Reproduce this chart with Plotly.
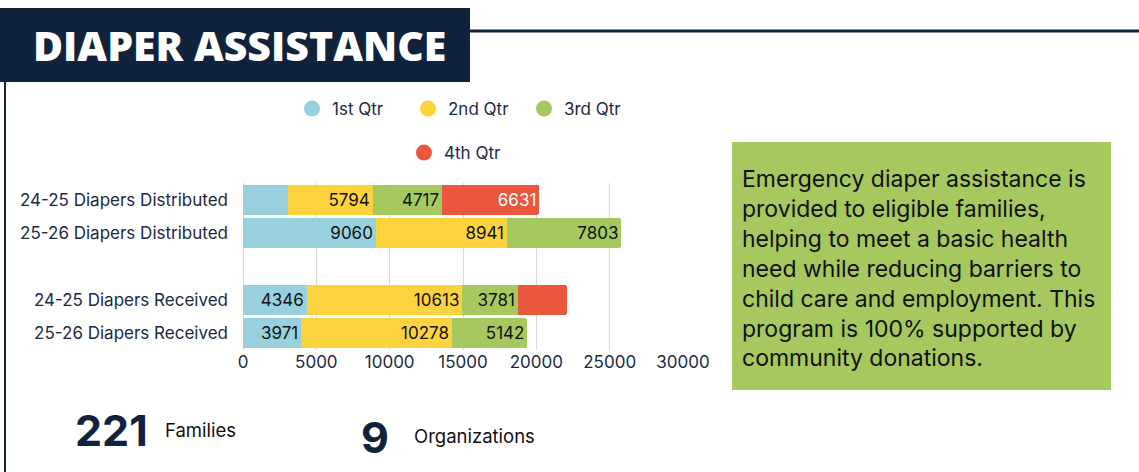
import plotly.graph_objects as go

W, H = 1139, 472

categories = ["24-25 Diapers Distributed", "25-26 Diapers Distributed", " ",
              "24-25 Diapers Received", "25-26 Diapers Received"]
series_names = ["1st Qtr", "2nd Qtr", "3rd Qtr", "4th Qtr"]
q1 = [3060, 9060, 0, 4346, 3971]
q2 = [5794, 8941, 0, 10613, 10278]
q3 = [4717, 7803, 0, 3781, 5142]
q4 = [6631, 0, 0, 3350, 0]
# labels shown in the reference (some small segments are unlabeled)
q1_lbl = ["", "9060", "", "4346", "3971"]
q2_lbl = ["5794", "8941", "", "10613", "10278"]
q3_lbl = ["4717", "7803", "", "3781", "5142"]
q4_lbl = ["6631", "", "", "", ""]
colors = ["#98d1dd", "#fcd33e", "#a5c85f", "#e8573e"]
label_colors = ["#111111", "#111111", "#111111", "#ffffff"]
x_ticks = [0, 5000, 10000, 15000, 20000, 25000, 30000]

NAVY = "#11223d"
TXT = "#1b2a44"

def px(x):
    return x / W

def py(y):
    return 1 - y / H

fig = go.Figure()
values = [q1, q2, q3, q4]
labels = [q1_lbl, q2_lbl, q3_lbl, q4_lbl]
for name, vals, lbl, col, lc in zip(series_names, values, labels, colors, label_colors):
    fig.add_trace(go.Bar(
        y=categories, x=vals, orientation="h", name=name,
        marker=dict(color=col, line=dict(width=0)),
        text=lbl, textposition="inside", insidetextanchor="end",
        textfont=dict(family="Inter", size=17, color=lc),
        constraintext="none",
        showlegend=False, hoverinfo="x+name",
    ))

# legend entries with circular markers
for i, (name, col) in enumerate(zip(series_names, colors)):
    fig.add_trace(go.Scatter(
        x=[None], y=[None], mode="markers", name=name,
        marker=dict(symbol="circle", size=18, color=col),
        legend="legend" if i < 3 else "legend2",
    ))

fig.update_layout(
    width=W, height=H,
    margin=dict(l=0, r=0, t=0, b=0, autoexpand=False),
    paper_bgcolor="white", plot_bgcolor="white",
    barmode="stack", bargap=0.1, barcornerradius=3,
    font=dict(family="Inter", color=TXT, size=17),
    xaxis=dict(
        domain=[px(243), px(683)], range=[0, 30000], automargin=False,
        tickvals=x_ticks, ticktext=[str(v) for v in x_ticks],
        showgrid=True, gridcolor="#d9d9d9", gridwidth=1,
        zeroline=True, zerolinecolor="#d9d9d9", zerolinewidth=1,
        showline=False, ticks="", tickfont=dict(size=17, color=TXT),
        anchor="y",
    ),
    yaxis=dict(
        domain=[py(350), py(183)], autorange="reversed", automargin=False,
        categoryorder="array", categoryarray=categories,
        showgrid=False, showline=False, ticks="", ticklabelstandoff=14,
        tickfont=dict(size=17, color=TXT),
    ),
    legend=dict(
        orientation="h", x=px(466), y=py(109), xanchor="center", yanchor="middle",
        font=dict(size=17, color=TXT), itemsizing="trace", traceorder="normal",
        entrywidth=71, entrywidthmode="pixels", bgcolor="rgba(0,0,0,0)",
    ),
    legend2=dict(
        orientation="h", x=px(455), y=py(153), xanchor="center", yanchor="middle",
        font=dict(size=17, color=TXT), itemsizing="trace", bgcolor="rgba(0,0,0,0)",
    ),
)

shapes = [
    # title block
    dict(type="rect", xref="paper", yref="paper", x0=px(0), x1=px(470), y0=py(82), y1=py(8),
         fillcolor=NAVY, line=dict(width=0), layer="below"),
    # horizontal rule
    dict(type="line", xref="paper", yref="paper", x0=px(470), x1=px(1139), y0=py(31), y1=py(31),
         line=dict(color=NAVY, width=3)),
    # left vertical rule
    dict(type="line", xref="paper", yref="paper", x0=px(5), x1=px(5), y0=py(82), y1=py(472),
         line=dict(color=NAVY, width=2)),
    # green text box
    dict(type="rect", xref="paper", yref="paper", x0=px(732), x1=px(1111), y0=py(390), y1=py(142),
         fillcolor="#a5c85f", line=dict(width=0), layer="below"),
]
fig.update_layout(shapes=shapes)

def note(text, x, y, font, **kw):
    return dict(text=text, x=px(x), y=py(y), xref="paper", yref="paper",
                xanchor="left", yanchor="middle", font=font, showarrow=False, **kw)

annotations = [
    note("DIAPER ASSISTANCE", 31, 45,
         dict(family="Open Sans", size=41, color="white", weight=800)),
    note(("Emergency diaper assistance is<br>provided to eligible families,<br>"
          "helping to meet a basic health<br>need while reducing barriers to<br>"
          "child care and employment. This<br>program is 100% supported by<br>"
          "community donations."), 740, 268,
         dict(family="Inter", size=23, color="#111111"), align="left"),
    note("<b>221</b>", 73, 430, dict(family="Inter", size=43, color=NAVY)),
    note("Families", 163, 430, dict(family="Inter", size=18.5, color="#111111")),
    note("<b>9</b>", 359, 437, dict(family="Inter", size=43, color=NAVY)),
    note("Organizations", 412, 436, dict(family="Inter", size=18.5, color="#111111")),
]
fig.update_layout(annotations=annotations)

fig.write_html(
    "out.html",
    config={"displayModeBar": False},
    post_script=("document.documentElement.style.overflow='hidden';"
                 "document.body.style.margin='0';document.body.style.overflow='hidden';"
                 "document.body.style.height='472px';"),
)
